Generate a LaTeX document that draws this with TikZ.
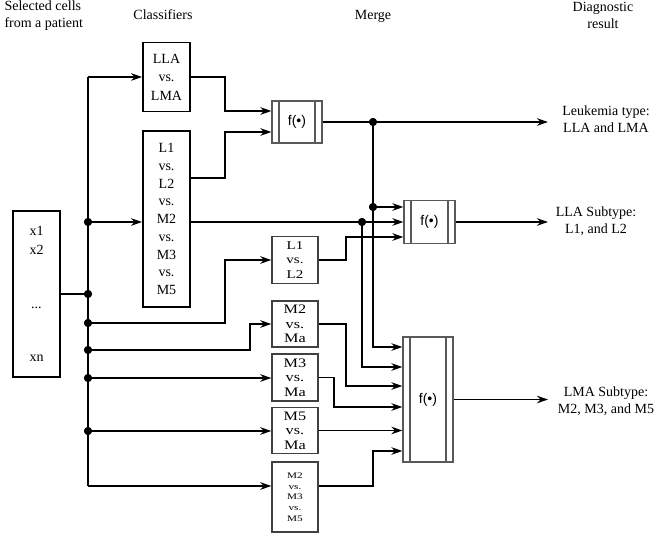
\documentclass[tikz,border=0pt]{standalone}
\usepackage{fontspec}
\setmainfont{Liberation Serif}
\newfontfamily\fsans{Liberation Sans}
\newfontfamily\wideserif[FakeStretch=1.25]{Liberation Serif}
\newfontfamily\widerserif[FakeStretch=1.32]{Liberation Serif}
\usetikzlibrary{arrows.meta,calc}
\begin{document}
\begin{tikzpicture}[x=1pt,y=-1pt,
 conn/.style={line width=1.8pt, black},
 arr/.style={conn, -{Stealth[length=11pt,width=7.5pt,inset=3.5pt]}},
 clsbox/.style={draw, line width=1.8pt, align=center, inner sep=0pt, minimum width=47pt, font=\fontsize{14}{18.5}\selectfont},
 smbox/.style={draw=black!75, line width=1.4pt, align=center, inner sep=0pt, minimum width=46pt, minimum height=46pt},
 fbox/.style={draw=black!65, line width=1.2pt, inner sep=0pt, font=\fsans\fontsize{14}{16}\selectfont,
   path picture={\draw[black!65, line width=1.2pt]
     ([xshift=7pt]path picture bounding box.north west) -- ([xshift=7pt]path picture bounding box.south west)
     ([xshift=-7pt]path picture bounding box.north east) -- ([xshift=-7pt]path picture bounding box.south east);}},
 head/.style={font=\fontsize{14}{17}\selectfont, align=center},
 dot/.style={circle, fill=black, inner sep=0pt, minimum size=8pt},
]
\useasboundingbox (0,0) rectangle (654,533);

% headers
\node[head, align=left, anchor=west] (h1) at (1,15.5) {Selected cells\\from a patient};
\node[head] (h2) at (163,15) {Classifiers};
\node[head] (h3) at (373,16) {Merge};
\node[head] (h4) at (603,15.5) {Diagnostic\\result};

% input
\node[clsbox, minimum height=166pt] (inp) at (36.5,294) {x1\\x2\\[36pt]...\\[34pt]xn};

% classifiers
\node[clsbox, minimum height=69pt] (lla) at (166.5,77) {LLA\\vs.\\LMA};
\node[clsbox, minimum height=176pt, font=\fontsize{14}{17.75}\selectfont] (big) at (166.5,219) {L1\\vs.\\L2\\vs.\\M2\\vs.\\M3\\vs.\\M5};
\node[smbox, minimum height=47pt, font=\wideserif\fontsize{12}{14.5}\selectfont] (l12) at (295,260) {L1\\vs.\\L2};
\node[smbox, font=\wideserif\fontsize{13}{14.5}\selectfont] (m2a) at (295,324) {M2\\vs.\\Ma};
\node[smbox, minimum height=47pt, font=\wideserif\fontsize{13}{14.5}\selectfont] (m3a) at (295,377.5) {M3\\vs.\\Ma};
\node[smbox, font=\wideserif\fontsize{13}{14.5}\selectfont] (m5a) at (295,430.5) {M5\\vs.\\Ma};
\node[smbox, minimum height=70pt, font=\widerserif\fontsize{8.5}{10.7}\selectfont] (m235) at (295,497) {M2\\vs.\\M3\\vs.\\M5};

% merge
\node[fbox, minimum width=50pt, minimum height=42pt] (f1) at (297,122) {f(•)};
\node[fbox, minimum width=51pt, minimum height=43pt] (f2) at (429.5,222) {f(•)};
\node[fbox, minimum width=50pt, minimum height=125pt] (f3) at (428,399.5) {f(•)};

% results
\node[head] (r1) at (606,119) {Leukemia type:\\LLA and LMA};
\node[head] (r2) at (596,221) {LLA Subtype:\\L1, and L2};
\node[head] (r3) at (606,401) {LMA Subtype:\\M2, M3, and M5};

% coordinates
\coordinate (btop) at (88,77);
\coordinate (bbot) at (88,486);
\coordinate (o1) at (548,122);
\coordinate (o2) at (548,222);
\coordinate (o3) at (548,399.5);
\node[dot] (d0) at (88,294) {};
\node[dot] (d1) at (88,222) {};
\node[dot] (d2) at (88,323) {};
\node[dot] (d3) at (88,350) {};
\node[dot] (d4) at (88,378) {};
\node[dot] (d5) at (88,431) {};
\node[dot] (j1) at (373,122) {};
\node[dot] (j2) at (373,207) {};
\node[dot] (j3) at (362,222) {};

% bus and inputs
\draw[conn] (btop) -- (bbot);
\draw[arr] (btop) -- (lla.west);
\draw[arr] (bbot) -- (m235.west |- bbot);
\draw[conn] (inp.east |- d0) -- (d0.center);
\draw[arr] (d1.center) -- (big.west |- d1);
\draw[arr] (d2.center) -- (225,323) |- (l12.west);
\draw[arr] (d3.center) -- (250,350) |- (m2a.west);
\draw[arr] (d4.center) -- (m3a.west |- d4);
\draw[arr] (d5.center) -- (m5a.west |- d5);

% classifier outputs
\draw[arr] (lla.east) -| (225,111) -- (f1.west |- 0,111);
\draw[arr] (big.east |- 0,178) -| (225,132) -- (f1.west |- 0,132);
\draw[arr] (big.east |- d1) -- (f2.west |- d1);
\draw[arr] (l12.east) -| (346,237) -- (f2.west |- 0,237);
\draw[arr] (m2a.east) -| (346,386) -- (f3.west |- 0,386);
\draw[arr] (m3a.east) -| (334,407) -- (f3.west |- 0,407);
\draw[arr] (m5a.east) -- (f3.west |- m5a);
\draw[arr] (m235.east |- bbot) -| (373,451) -- (f3.west |- 0,451);

% merge links
\draw[arr] (f1.east) -- (o1);
\draw[arr] (j1.center) |- (f3.west |- 0,347);
\draw[arr] (j2.center) -- (f2.west |- j2);
\draw[arr] (j3.center) |- (f3.west |- 0,367);
\draw[arr] (f2.east) -- (o2);
\draw[arr] (f3.east) -- (o3);

% dots on top
\foreach \d in {d0,d1,d2,d3,d4,d5,j1,j2,j3} \fill (\d) circle (4pt);
\end{tikzpicture}
\end{document}
